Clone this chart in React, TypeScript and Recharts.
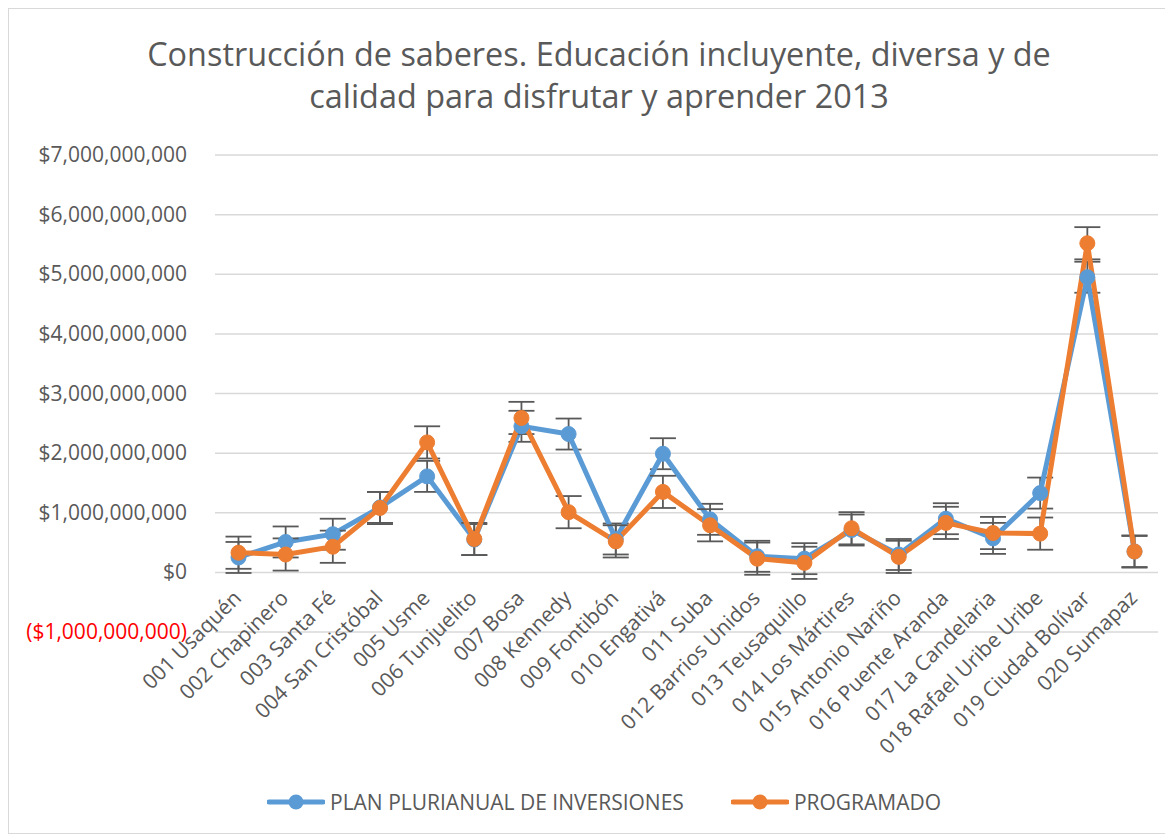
import React from "react";
import {
  LineChart,
  Line,
  XAxis,
  YAxis,
  CartesianGrid,
  ErrorBar,
} from "recharts";

// Localidades de Bogotá
const categories = [
  "001 Usaquén",
  "002 Chapinero",
  "003 Santa Fé",
  "004 San Cristóbal",
  "005 Usme",
  "006 Tunjuelito",
  "007 Bosa",
  "008 Kennedy",
  "009 Fontibón",
  "010 Engativá",
  "011 Suba",
  "012 Barrios Unidos",
  "013 Teusaquillo",
  "014 Los Mártires",
  "015 Antonio Nariño",
  "016 Puente Aranda",
  "017 La Candelaria",
  "018 Rafael Uribe Uribe",
  "019 Ciudad Bolívar",
  "020 Sumapaz",
];

// values in pesos
const planPlurianual = [
  250e6, 510e6, 640e6, 1090e6, 1610e6, 550e6, 2450e6, 2320e6, 560e6, 1990e6,
  890e6, 270e6, 230e6, 710e6, 300e6, 900e6, 570e6, 1330e6, 4950e6, 350e6,
];
const programado = [
  330e6, 300e6, 430e6, 1080e6, 2180e6, 560e6, 2590e6, 1010e6, 520e6, 1350e6,
  790e6, 230e6, 160e6, 740e6, 260e6, 830e6, 660e6, 650e6, 5520e6, 350e6,
];

// standard error bars (same for every point of a series)
const planError = 260e6;
const programadoError = 270e6;

const yTicks = [-1e9, 0, 1e9, 2e9, 3e9, 4e9, 5e9, 6e9, 7e9];
const Y_MIN = -1e9;
const Y_MAX = 7e9;

const titleLines = [
  "Construcción de saberes. Educación incluyente, diversa y de",
  "calidad para disfrutar y aprender 2013",
];

const BLUE = "#5B9BD5";
const ORANGE = "#ED7D31";
const TEXT = "#595959";
const FONT = "'Open Sans', sans-serif";

const W = 1163;
const H = 824;
const MARGIN = { top: 146, right: 14, bottom: 0, left: 0 };
const X_AXIS_H = 201;
const Y_AXIS_W = 206;
const PLOT_H = H - MARGIN.top - MARGIN.bottom - X_AXIS_H;
// y of the $0 line, category labels hang from it like in Excel
const ZERO_Y = MARGIN.top + (PLOT_H * Y_MAX) / (Y_MAX - Y_MIN);

const data = categories.map((name, i) => ({
  name,
  plan: planPlurianual[i],
  prog: programado[i],
  planErr: planError,
  progErr: programadoError,
}));

function formatMoney(v: number) {
  const s = "$" + Math.abs(v).toLocaleString("en-US");
  return v < 0 ? `(${s})` : s;
}

function YTick(props: any) {
  const { x, y, payload } = props;
  const v = payload.value as number;
  return (
    <text
      x={x - 20}
      y={y}
      dy={7}
      textAnchor="end"
      fontSize={21}
      fontFamily={FONT}
      fill={v < 0 ? "#FF0000" : TEXT}
    >
      {formatMoney(v)}
    </text>
  );
}

function XTick(props: any) {
  const { x, payload } = props;
  return (
    <g transform={`translate(${x + 4},${ZERO_Y + 27})`}>
      <text
        x={0}
        y={0}
        textAnchor="end"
        transform="rotate(-45)"
        fontSize={21}
        fontFamily={FONT}
        fill={TEXT}
      >
        {payload.value}
      </text>
    </g>
  );
}

function LegendItem({ color, label }: { color: string; label: string }) {
  return (
    <div style={{ display: "flex", alignItems: "center" }}>
      <svg width={58} height={18}>
        <line x1={2} y1={9} x2={56} y2={9} stroke={color} strokeWidth={5} strokeLinecap="round" />
        <circle cx={29} cy={9} r={7.5} fill={color} />
      </svg>
      <span style={{ marginLeft: 5, fontSize: 21, color: TEXT, fontFamily: FONT, lineHeight: "26px" }}>
        {label}
      </span>
    </div>
  );
}

export default function App() {
  return (
    <div
      style={{
        position: "relative",
        width: W,
        height: H,
        border: "1px solid #d9d9d9",
        background: "#fff",
      }}
    >
      {titleLines.map((line, i) => (
        <div
          key={i}
          style={{
            position: "absolute",
            top: 22 + i * 41.5,
            left: 0,
            width: 1180,
            textAlign: "center",
            fontFamily: FONT,
            fontSize: 32.4,
            lineHeight: "44px",
            color: TEXT,
            whiteSpace: "nowrap",
          }}
        >
          {line}
        </div>
      ))}
      <LineChart width={W} height={H} data={data} margin={MARGIN}>
        <CartesianGrid vertical={false} stroke="#d9d9d9" strokeWidth={1.5} />
        <XAxis
          dataKey="name"
          interval={0}
          axisLine={false}
          tickLine={false}
          height={X_AXIS_H}
          padding={{ left: 23.5, right: 23.5 }}
          tick={<XTick />}
        />
        <YAxis
          type="number"
          domain={[Y_MIN, Y_MAX]}
          ticks={yTicks}
          width={Y_AXIS_W}
          axisLine={false}
          tickLine={false}
          tick={<YTick />}
        />
        <Line
          dataKey="plan"
          stroke={BLUE}
          strokeWidth={5}
          dot={{ r: 7.5, fill: BLUE, stroke: BLUE, strokeWidth: 1 }}
          isAnimationActive={false}
        >
          <ErrorBar dataKey="planErr" width={13} stroke={TEXT} strokeWidth={1.8} />
        </Line>
        <Line
          dataKey="prog"
          stroke={ORANGE}
          strokeWidth={5}
          dot={{ r: 7.5, fill: ORANGE, stroke: ORANGE, strokeWidth: 1 }}
          isAnimationActive={false}
        >
          <ErrorBar dataKey="progErr" width={13} stroke={TEXT} strokeWidth={1.8} />
        </Line>
      </LineChart>
      <div
        style={{
          position: "absolute",
          top: 780,
          left: 258,
          display: "flex",
          gap: 47,
        }}
      >
        <LegendItem color={BLUE} label="PLAN PLURIANUAL DE INVERSIONES" />
        <LegendItem color={ORANGE} label="PROGRAMADO" />
      </div>
    </div>
  );
}
